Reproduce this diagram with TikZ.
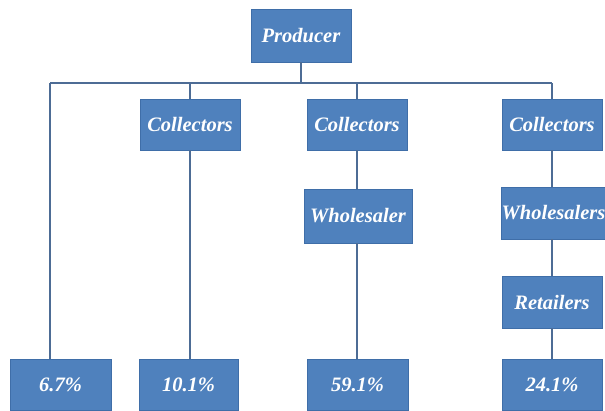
\documentclass[tikz,border=0pt]{standalone}
\usepackage{fontspec}
\setmainfont{Liberation Serif}
\definecolor{boxfill}{HTML}{4F81BD}
\definecolor{boxedge}{HTML}{3F6EA8}
\definecolor{linecol}{HTML}{4D6C95}
\begin{document}
\begin{tikzpicture}[x=1pt,y=-1pt,
  box/.style={draw=boxedge,fill=boxfill,line width=0.8pt,rectangle,inner sep=0pt,
    text=white,font=\fontsize{20.5}{22}\selectfont\bfseries\itshape,
    minimum width=100pt,minimum height=51pt},
  conn/.style={draw=linecol,line width=2pt}]
\useasboundingbox (0,0) rectangle (605,410);
\node[box,minimum height=53pt] (prod) at (301,35.5) {Producer};
\node[box] (c1) at (190,124.5) {Collectors};
\node[box] (c2) at (357,124.5) {Collectors};
\node[box] (c3) at (552,124.5) {Collectors};
\node[box,minimum width=108pt,minimum height=54pt] (wh1) at (358,216) {Wholesaler};
\node[box,minimum width=103pt,minimum height=52pt] (wh2) at (553.5,213) {Wholesalers};
\node[box,minimum height=52pt] (ret) at (552,302) {Retailers};
\node[box,minimum width=101pt] (p1) at (60.5,384.5) {6.7\%};
\node[box,minimum width=99pt] (p2) at (188.5,384.5) {10.1\%};
\node[box,minimum width=101pt] (p3) at (357.5,384.5) {59.1\%};
\node[box] (p4) at (552,384.5) {24.1\%};
\coordinate (busL) at (50,83);
\coordinate (busR) at (552,83);
\begin{scope}[on background layer/.try]
\end{scope}
\draw[conn] (prod.south) -- (prod.south |- busL);
\draw[conn] (busL) -- (busR);
\draw[conn] (busL) -- (busL |- p1.north);
\draw[conn] (c1.south |- busL) -- (c1.north);
\draw[conn] (c2.south |- busL) -- (c2.north);
\draw[conn] (busR) -- (c3.north);
\draw[conn] (c1.south) -- (c1.south |- p2.north);
\draw[conn] (c2.south) -- (c2.south |- wh1.north);
\draw[conn] (c2.south |- wh1.south) -- (c2.south |- p3.north);
\draw[conn] (c3.south) -- (c3.south |- wh2.north);
\draw[conn] (c3.south |- wh2.south) -- (ret.north);
\draw[conn] (ret.south) -- (p4.north);
\end{tikzpicture}
\end{document}
